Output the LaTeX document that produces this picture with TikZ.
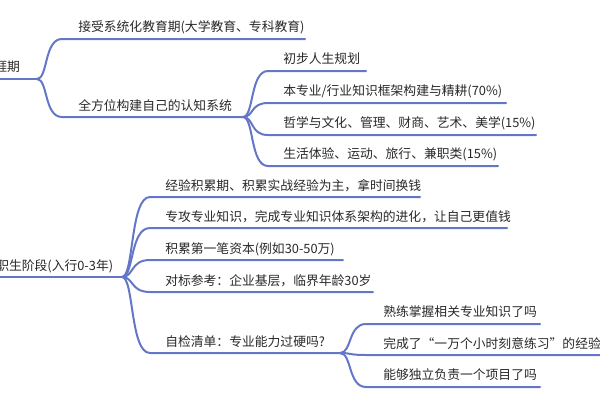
\documentclass[tikz,border=0pt]{standalone}
\usepackage{fontspec}
\setmainfont{Noto Sans CJK SC}
\begin{document}
\begin{tikzpicture}[x=0.75pt,y=-0.75pt,
  br/.style={draw={rgb,255:red,100;green,118;blue,200},line width=1.5pt,line cap=round},
  lbl/.style={anchor=base west,inner sep=0pt,font=\fontsize{9.6pt}{11pt}\selectfont,text={rgb,255:red,40;green,40;blue,40}}]
\path[use as bounding box] (0,0) rectangle (600,400);
\clip (0,0) rectangle (600,400);
% top tree
\node[lbl] (r1) at (-6,71) {涯期};
\coordinate (b1) at (37,79);
\draw[br] (-5,79) -- (b1);
\node[lbl] (a1) at (78,31) {接受系统化教育期(大学教育、专科教育)};
\node[lbl] (a2) at (78,110) {全方位构建自己的认知系统};
\draw[br] (b1) .. controls (48,79) and (44,39) .. (62,39) -- (305,39);
\draw[br] (b1) .. controls (48,79) and (44,117) .. (62,117) -- (243,117);
\coordinate (b2) at (243,117);
\node[lbl] (g1) at (283,63) {初步人生规划};
\node[lbl] (g2) at (283,95) {本专业/行业知识框架构建与精耕(70\%)};
\node[lbl] (g3) at (283,127) {哲学与文化、管理、财商、艺术、美学(15\%)};
\node[lbl] (g4) at (283,158) {生活体验、运动、旅行、兼职类(15\%)};
\foreach \y/\e in {71/366,103/506,135/536,166/498}
  \draw[br] (b2) .. controls (254,117) and (250,\y) .. (268,\y) -- (\e,\y);
% bottom tree
\node[lbl] (r2) at (-4,270) {职生阶段(入行0-3年)};
\coordinate (b3) at (122,277);
\draw[br] (-5,277) -- (b3);
\node[lbl] (c1) at (165,190) {经验积累期、积累实战经验为主，拿时间换钱};
\node[lbl] (c2) at (165,221) {专攻专业知识，完成专业知识体系架构的进化，让自己更值钱};
\node[lbl] (c3) at (165,253) {积累第一笔资本(例如30-50万)};
\node[lbl] (c4) at (165,285) {对标参考：企业基层，临界年龄30岁};
\node[lbl] (c5) at (165,346) {自检清单：专业能力过硬吗?};
\foreach \y/\e in {197/420,228/507,260/343,292/373,353/340}
  \draw[br] (b3) .. controls (134,277) and (130,\y) .. (150,\y) -- (\e,\y);
\coordinate (b4) at (340,353);
\node[lbl] (d1) at (383,316) {熟练掌握相关专业知识了吗};
\node[lbl] (d2) at (383,348) {完成了“一万个小时刻意练习”的经验值积累了吗};
\node[lbl] (d3) at (383,379) {能够独立负责一个项目了吗};
\foreach \y/\e in {324/540,355/620,387/540}
  \draw[br] (b4) .. controls (352,353) and (348,\y) .. (366,\y) -- (\e,\y);
\end{tikzpicture}
\end{document}
